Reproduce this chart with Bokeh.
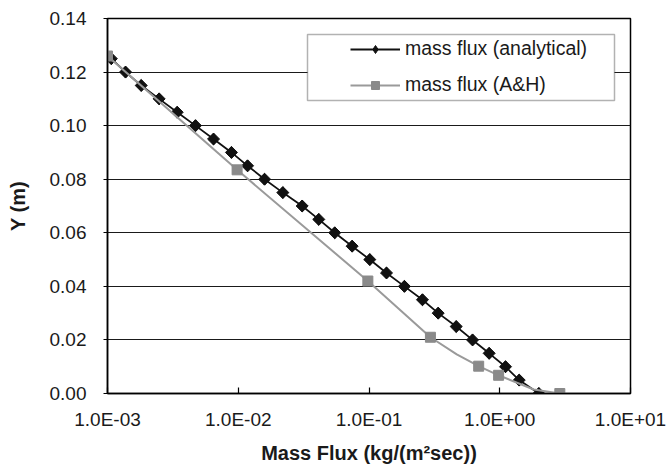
from bokeh.plotting import figure
from bokeh.models import (Range1d, FixedTicker, CustomJSTickFormatter, Legend,
                          LegendItem, BoxAnnotation)
from bokeh.embed import file_html
from bokeh.resources import INLINE

# ---------------- data ----------------
analytical_y = [0.125, 0.12, 0.115, 0.11, 0.105, 0.10, 0.095, 0.09, 0.085, 0.08,
                0.075, 0.07, 0.065, 0.06, 0.055, 0.05, 0.045, 0.04, 0.035, 0.03,
                0.025, 0.02, 0.015, 0.01, 0.005, 0.0]
analytical_x = [1.07e-3, 1.374e-3, 1.811e-3, 2.483e-3, 3.412e-3, 4.710e-3, 6.471e-3,
                8.872e-3, 1.178e-2, 1.589e-2, 2.193e-2, 3.083e-2, 4.130e-2, 5.470e-2,
                7.430e-2, 0.1014, 0.1361, 0.1866, 0.2564, 0.3381, 0.4645, 0.6194,
                0.8299, 1.107, 1.409, 1.991]

ah_x = [1.0e-3, 9.8e-3, 0.098, 0.295, 0.69, 0.98, 2.88]
ah_y = [0.126, 0.0835, 0.042, 0.021, 0.0102, 0.0068, 0.0]

ah_line_x = [1.0e-3, 9.8e-3, 0.098, 0.295, 0.469, 0.69, 0.98, 1.82, 2.88]
ah_line_y = [0.126, 0.0835, 0.042, 0.021, 0.0146, 0.0102, 0.0068, 0.0015, 0.0]

x_ticks = [1e-3, 1e-2, 1e-1, 1e0, 1e1]
x_tick_labels = ["1.0E-03", "1.0E-02", "1.0E-01", "1.0E+00", "1.0E+01"]
y_ticks = [0.0, 0.02, 0.04, 0.06, 0.08, 0.10, 0.12, 0.14]
y_tick_labels = ["0.00", "0.02", "0.04", "0.06", "0.08", "0.10", "0.12", "0.14"]

series_labels = ["mass flux (analytical)", "mass flux (A&H)"]
x_title = "Mass Flux (kg/(m\u00b2sec))"
y_title = "Y (m)"

FONT = "Liberation Sans"

p = figure(x_axis_type="log", x_range=Range1d(1e-3, 10), y_range=Range1d(0, 0.14),
           frame_width=523, frame_height=375,
           min_border_left=107, min_border_right=37, min_border_top=18, min_border_bottom=72,
           output_backend="svg", toolbar_location=None,
           background_fill_color="white", border_fill_color="white")

p.outline_line_color = "black"
p.outline_line_width = 1.5
p.xgrid.visible = False
p.ygrid.ticker = FixedTicker(ticks=y_ticks)
p.ygrid.grid_line_color = "#1a1a1a"
p.ygrid.grid_line_width = 1

xfmt = CustomJSTickFormatter(args=dict(tv=x_ticks, tl=x_tick_labels), code="""
    for (let i = 0; i < tv.length; i++) {
        if (Math.abs(Math.log10(tv[i]) - Math.log10(tick)) < 1e-6) return tl[i];
    }
    return '';
""")
yfmt = CustomJSTickFormatter(args=dict(tv=y_ticks, tl=y_tick_labels), code="""
    for (let i = 0; i < tv.length; i++) {
        if (Math.abs(tv[i] - tick) < 1e-9) return tl[i];
    }
    return '';
""")

xa = p.xaxis[0]
xa.ticker = FixedTicker(ticks=x_ticks)
xa.formatter = xfmt
xa.major_tick_in = 6
xa.major_tick_out = 0
xa.minor_tick_line_color = None
xa.major_label_standoff = 15
xa.axis_label = x_title
xa.axis_label_standoff = 9

ya = p.yaxis[0]
ya.ticker = FixedTicker(ticks=y_ticks)
ya.formatter = yfmt
ya.major_tick_in = 0
ya.major_tick_out = 4
ya.minor_tick_line_color = None
ya.major_label_standoff = 17
ya.axis_label = y_title
ya.axis_label_standoff = 18

for ax in (xa, ya):
    ax.axis_line_color = "black"
    ax.axis_line_width = 1.5
    ax.major_tick_line_color = "black"
    ax.major_tick_line_width = 1.2
    ax.major_label_text_font = FONT
    ax.major_label_text_font_size = "19px"
    ax.major_label_text_color = "#1a1a1a"
    ax.axis_label_text_font = FONT
    ax.axis_label_text_font_size = "20px"
    ax.axis_label_text_font_style = "bold"
    ax.axis_label_text_color = "#1a1a1a"

l1 = p.line(analytical_x, analytical_y, line_color="#111111", line_width=1.8)
# legend-style diamond (sits underneath the rotated-square markers)
k1 = p.scatter(analytical_x, analytical_y, marker="diamond", size=11.5,
               fill_color="#111111", line_color="#111111")
s1 = p.scatter(analytical_x, analytical_y, marker="square", angle=0.7853981634,
               size=8.5, fill_color="#111111", line_color="#111111")
l2 = p.line(ah_line_x, ah_line_y, line_color="#9a9a9a", line_width=2)
k2 = p.scatter(ah_x, ah_y, marker="square", size=8,
               fill_color="#8a8a8a", line_color="#8a8a8a")
s2 = p.scatter(ah_x, ah_y, marker="square", size=10,
               fill_color="#8a8a8a", line_color="#8a8a8a")

# legend frame (screen units relative to the plot frame's bottom-left corner)
box = BoxAnnotation(left=200, right=507, top=359, bottom=293,
                    left_units="screen", right_units="screen",
                    top_units="screen", bottom_units="screen",
                    fill_color="white", fill_alpha=1.0,
                    line_color="black", line_width=1.5)
p.add_layout(box)

legend = Legend(items=[LegendItem(label=series_labels[0], renderers=[l1, k1]),
                       LegendItem(label=series_labels[1], renderers=[l2, k2])],
                location=(243, 297), padding=0, margin=0, spacing=13,
                glyph_width=50, glyph_height=20, label_standoff=5, label_height=20,
                label_text_font=FONT, label_text_font_size="19.5px",
                label_text_color="#1a1a1a",
                background_fill_alpha=0, border_line_alpha=0)
p.add_layout(legend)

open("out.html", "w").write(file_html(p, INLINE))
